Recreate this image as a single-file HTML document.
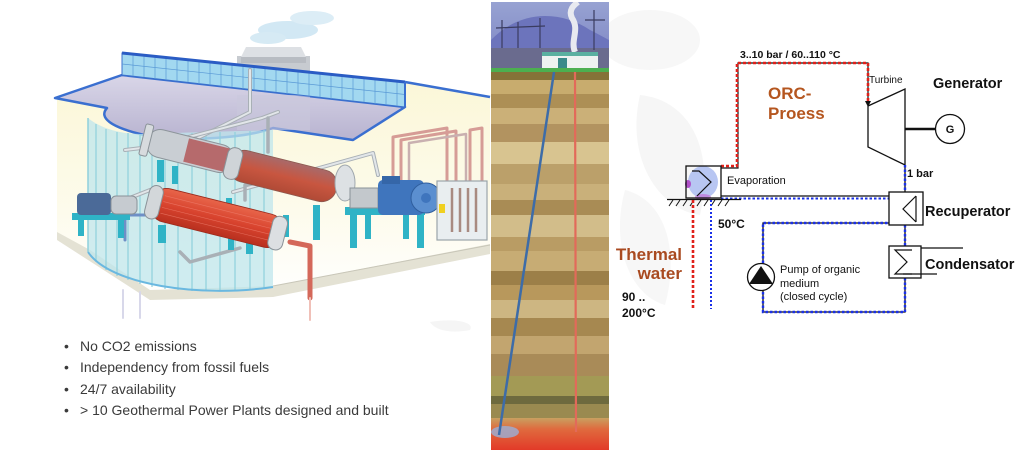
<!DOCTYPE html>
<html><head><meta charset="utf-8">
<style>
html,body{margin:0;padding:0;background:#fff;}
body{width:1024px;height:454px;overflow:hidden;position:relative;font-family:"Liberation Sans",Arial,sans-serif;}
svg{position:absolute;left:0;top:0;}
</style></head>
<body>
<svg width="1024" height="454" viewBox="0 0 1024 454" xmlns="http://www.w3.org/2000/svg" font-family="Liberation Sans, Arial, sans-serif">
<defs>
  <linearGradient id="roofG" x1="0" y1="0" x2="0" y2="1">
    <stop offset="0" stop-color="#d9d6e8"/><stop offset="1" stop-color="#b8b3d0"/>
  </linearGradient>
  <linearGradient id="creamG" x1="0" y1="0" x2="0" y2="1">
    <stop offset="0" stop-color="#fbf7d8"/><stop offset="0.6" stop-color="#fdfbec"/><stop offset="1" stop-color="#ffffff"/>
  </linearGradient>
  <linearGradient id="skyG" x1="0" y1="0" x2="0" y2="1">
    <stop offset="0" stop-color="#97a2d2"/><stop offset="1" stop-color="#7a82c2"/>
  </linearGradient>
  <linearGradient id="lavaG" x1="0" y1="0" x2="0" y2="1">
    <stop offset="0" stop-color="#c9a060"/><stop offset="0.35" stop-color="#e06a3e"/><stop offset="1" stop-color="#e23a28"/>
  </linearGradient>
  <linearGradient id="hx3G" x1="0" y1="0" x2="0" y2="1">
    <stop offset="0" stop-color="#e8654a"/><stop offset="0.5" stop-color="#d8432e"/><stop offset="1" stop-color="#b8301f"/>
  </linearGradient>
  <linearGradient id="hx2G" x1="0" y1="0" x2="0" y2="1">
    <stop offset="0" stop-color="#a86a6a"/><stop offset="0.5" stop-color="#c85640"/><stop offset="1" stop-color="#b04a36"/>
  </linearGradient>
  <clipPath id="stripClip"><rect x="491" y="2" width="118" height="448"/></clipPath>
</defs>

<!-- faint background leaves -->
<ellipse cx="650" cy="40" rx="50" ry="30" fill="#f7f7f7"/>
<path d="M640,95 C690,100 715,150 700,215 C660,210 625,160 640,95 Z" fill="#f6f6f6"/>
<path d="M625,190 C665,200 680,250 665,305 C630,295 610,245 625,190 Z" fill="#f7f7f7"/>
<path d="M430,322 C455,318 475,322 470,330 C450,334 435,330 430,322 Z" fill="#f5f5f5"/>

<!-- ============ LEFT ILLUSTRATION ============ -->
<ellipse cx="288" cy="30" rx="30" ry="9" fill="#d2e8f4"/>
<ellipse cx="312" cy="18" rx="22" ry="7" fill="#dcedf6"/>
<ellipse cx="268" cy="38" rx="18" ry="6" fill="#d6eaf4"/>

<polygon points="57,98 405,82 490,97 490,252 273,293 150,299 57,234" fill="url(#creamG)"/>
<polygon points="57,232 90,250 150,290 273,286 490,244 490,254 273,297 150,300 57,240" fill="#e4e2d4"/>
<line x1="273" y1="286" x2="490" y2="245" stroke="#c8c6b8" stroke-width="1"/>

<rect x="237" y="56" width="73" height="48" fill="#c7cbd0"/>
<polygon points="246,47 301,47 306,57 241,57" fill="#dde0e4"/>
<rect x="241" y="57" width="65" height="6" fill="#b8bcc2"/>

<path d="M55,98 L122,75 L405,107 L353,140 L273,128 C240,140 170,142 140,134 C112,127 98,118 107,108 Z" fill="url(#roofG)" stroke="#3a6fd0" stroke-width="2.5" stroke-linejoin="round"/>
<rect x="237" y="95" width="73" height="35" fill="#c9c8dc" opacity="0.6"/>
<polygon points="122,53 405,82 405,107 122,75" fill="#a2d8f0" stroke="#3a70cc" stroke-width="1"/>
<g stroke="#5a9ad6" stroke-width="0.7">
<line x1="133" y1="54" x2="133" y2="76"/><line x1="144" y1="55" x2="144" y2="77"/><line x1="155" y1="56" x2="155" y2="79"/><line x1="166" y1="58" x2="166" y2="80"/><line x1="177" y1="59" x2="177" y2="81"/><line x1="188" y1="60" x2="188" y2="82"/><line x1="199" y1="61" x2="199" y2="84"/><line x1="210" y1="62" x2="210" y2="85"/><line x1="221" y1="63" x2="221" y2="86"/><line x1="232" y1="64" x2="232" y2="87"/><line x1="243" y1="65" x2="243" y2="89"/><line x1="254" y1="67" x2="254" y2="90"/><line x1="265" y1="68" x2="265" y2="91"/><line x1="276" y1="69" x2="276" y2="92"/><line x1="287" y1="70" x2="287" y2="94"/><line x1="298" y1="71" x2="298" y2="95"/><line x1="309" y1="72" x2="309" y2="96"/><line x1="320" y1="73" x2="320" y2="97"/><line x1="331" y1="74" x2="331" y2="99"/><line x1="342" y1="76" x2="342" y2="100"/><line x1="353" y1="77" x2="353" y2="101"/><line x1="364" y1="78" x2="364" y2="102"/><line x1="375" y1="79" x2="375" y2="104"/><line x1="386" y1="80" x2="386" y2="105"/><line x1="397" y1="81" x2="397" y2="106"/>
<line x1="122" y1="64" x2="405" y2="94.5"/>
</g>
<line x1="122" y1="53" x2="405" y2="82" stroke="#2a5cc4" stroke-width="3"/>
<line x1="405" y1="82" x2="490" y2="97" stroke="#3a6fd0" stroke-width="2.5"/>
<line x1="405" y1="82" x2="405" y2="107" stroke="#3a6fd0" stroke-width="2"/>

<path d="M88,118 C100,128 120,134 140,134 L273,130 L273,287 C200,298 110,285 88,252 Z" fill="#bfe6ec" opacity="0.75"/>
<g stroke="#8fd0dc" stroke-width="1.2">
<line x1="96" y1="124" x2="96" y2="262"/><line x1="106" y1="129" x2="106" y2="270"/><line x1="117" y1="132" x2="117" y2="276"/><line x1="128" y1="133" x2="128" y2="280"/><line x1="140" y1="134" x2="140" y2="284"/><line x1="152" y1="134" x2="152" y2="287"/><line x1="165" y1="134" x2="165" y2="289"/><line x1="178" y1="134" x2="178" y2="290"/><line x1="192" y1="133" x2="192" y2="291"/><line x1="206" y1="133" x2="206" y2="291"/><line x1="220" y1="132" x2="220" y2="291"/><line x1="235" y1="132" x2="235" y2="290"/><line x1="250" y1="131" x2="250" y2="289"/><line x1="264" y1="130" x2="264" y2="288"/>
</g>
<path d="M88,252 C110,285 200,298 273,287" fill="none" stroke="#6ab8e0" stroke-width="2"/>
<line x1="88" y1="118" x2="88" y2="252" stroke="#8fd0dc" stroke-width="1.5"/>

<g fill="none" stroke-linecap="round" stroke-linejoin="round">
<path d="M250,70 L250,112 L190,142" stroke="#a9b0b6" stroke-width="4"/>
<path d="M250,70 L250,112 L190,142" stroke="#e2e6e9" stroke-width="2"/>
<path d="M278,112 L262,118 L150,147 L125,150" stroke="#a9b0b6" stroke-width="4"/>
<path d="M278,112 L262,118 L150,147 L125,150" stroke="#e2e6e9" stroke-width="2"/>
<path d="M268,118 L268,152" stroke="#a9b0b6" stroke-width="3.5"/>
<path d="M233,192 L373,153 L378,175" stroke="#a9b0b6" stroke-width="4"/>
<path d="M233,192 L373,153 L378,175" stroke="#e2e6e9" stroke-width="2"/>
<path d="M245,200 L245,185 L300,170" stroke="#a9b0b6" stroke-width="3.5"/>
<path d="M180,252 L190,262 L240,248" stroke="#a9b0b6" stroke-width="3.5"/>
<path d="M112,205 L150,190" stroke="#a9b0b6" stroke-width="4"/>
<path d="M112,205 L150,190" stroke="#e2e6e9" stroke-width="2"/>
<path d="M145,215 L125,215 L125,240" stroke="#6e8fc6" stroke-width="3"/>
<path d="M393,180 L393,137 L447,128 L447,182" stroke="#d69c96" stroke-width="3"/>
<path d="M401,180 L401,140 L456,131 L456,182" stroke="#d69c96" stroke-width="3"/>
<path d="M409,180 L409,143 L466,134 L466,182" stroke="#c9b0b0" stroke-width="2.5"/>
<path d="M470,182 L470,130 L482,128 L482,182" stroke="#d69c96" stroke-width="3"/>
<path d="M290,242 L310,246 L310,298" stroke="#d4685a" stroke-width="5"/>
<path d="M310,298 L310,320" stroke="#f0c0b8" stroke-width="2"/>
<path d="M123,290 L123,318 M140,292 L140,318" stroke="#d8d8ea" stroke-width="2"/>
</g>

<g fill="#2fb3c6">
<rect x="157" y="160" width="7" height="22"/><rect x="172" y="166" width="6" height="18"/>
<rect x="158" y="225" width="8" height="18"/><rect x="246" y="232" width="7" height="22"/>
<rect x="228" y="236" width="6" height="14"/>
<rect x="313" y="205" width="7" height="35"/><rect x="283" y="215" width="6" height="22"/>
<rect x="226" y="198" width="6" height="14"/>
<rect x="345" y="207" width="80" height="8"/>
<rect x="350" y="213" width="7" height="35"/><rect x="365" y="213" width="6" height="26"/>
<rect x="403" y="213" width="6" height="26"/><rect x="417" y="213" width="7" height="35"/>
<rect x="72" y="213" width="58" height="7"/>
<rect x="78" y="218" width="6" height="18"/><rect x="118" y="218" width="6" height="20"/>
</g>

<g transform="translate(190,151) rotate(14)">
<rect x="-44" y="-14" width="88" height="28" rx="13" fill="#c9ced3" stroke="#8d959b" stroke-width="1"/>
<rect x="-4" y="-12" width="42" height="24" fill="#b66a6c"/>
<rect x="-49" y="-16" width="8" height="32" rx="2" fill="#d7dbde" stroke="#8a9298" stroke-width="1"/>
</g>
<g transform="translate(283,176) rotate(14)">
<rect x="-55" y="-16" width="110" height="32" rx="15" fill="url(#hx2G)" stroke="#8d5a50" stroke-width="0.8"/>
<rect x="-59" y="-16" width="15" height="32" rx="7" fill="#cfd4d8" stroke="#8a9298" stroke-width="1"/>
</g>
<ellipse cx="345" cy="183" rx="10" ry="18" fill="#dde1e4" stroke="#a0a8ae" stroke-width="1"/>
<rect x="350" y="188" width="28" height="20" fill="#c3c8cc" stroke="#8a9298" stroke-width="1"/>
<g transform="translate(217,218) rotate(14)">
<rect x="-68" y="-17" width="136" height="34" rx="16" fill="url(#hx3G)" stroke="#9a2a1c" stroke-width="0.8"/>
<g stroke="#f08070" stroke-width="0.6" opacity="0.7">
<line x1="-56" y1="-9" x2="55" y2="-9"/><line x1="-56" y1="-3" x2="55" y2="-3"/><line x1="-56" y1="3" x2="55" y2="3"/><line x1="-56" y1="9" x2="55" y2="9"/>
</g>
<rect x="-72" y="-17" width="14" height="34" rx="7" fill="#d3d7da" stroke="#8a9298" stroke-width="1"/>
<rect x="55" y="-17" width="15" height="34" rx="7" fill="#dcdfe2" stroke="#8a9298" stroke-width="1"/>
</g>
<rect x="77" y="193" width="34" height="22" rx="4" fill="#4b6a98"/>
<rect x="111" y="196" width="26" height="18" rx="5" fill="#c6cbd0" stroke="#8a9298" stroke-width="1"/>
<rect x="378" y="180" width="46" height="35" rx="5" fill="#3f75bd"/>
<rect x="382" y="176" width="18" height="8" fill="#3566a8"/>
<circle cx="426" cy="198" r="15" fill="#5b8fd0" stroke="#2f5e9e" stroke-width="1"/>
<circle cx="426" cy="198" r="5" fill="#3f75bd"/>
<rect x="437" y="181" width="50" height="59" fill="#e9eef0" stroke="#9aa4aa" stroke-width="1.2"/>
<g stroke="#a88a80" stroke-width="2.5">
<line x1="452" y1="188" x2="452" y2="232"/><line x1="460" y1="188" x2="460" y2="232"/><line x1="468" y1="188" x2="468" y2="232"/><line x1="476" y1="188" x2="476" y2="232"/>
</g>
<rect x="439" y="204" width="6" height="9" fill="#f0d020"/>

<!-- ============ MIDDLE STRIP ============ -->
<g clip-path="url(#stripClip)">
<rect x="491" y="2" width="118" height="70" fill="url(#skyG)"/>
<path d="M491,40 C520,10 560,10 590,30 C600,35 605,38 609,40 L609,60 L491,60 Z" fill="#6c74bc"/>
<rect x="491" y="48" width="118" height="20" fill="#6a6b8e"/>
<g stroke="#3a3c60" stroke-width="1.2">
<line x1="502" y1="20" x2="502" y2="48"/><line x1="518" y1="22" x2="518" y2="48"/><line x1="540" y1="18" x2="540" y2="48"/><line x1="594" y1="10" x2="594" y2="50"/>
<line x1="585" y1="20" x2="605" y2="20"/><line x1="496" y1="28" x2="545" y2="26"/>
</g>
<path d="M575,52 C570,40 580,30 572,18 C568,10 574,5 578,2" stroke="#e8eaf0" stroke-width="6" fill="none"/>
<rect x="542" y="55" width="56" height="14" fill="#eef2f0"/>
<rect x="542" y="52" width="56" height="4" fill="#5ab0a0"/>
<rect x="558" y="58" width="9" height="11" fill="#3a8a8a"/>
<rect x="491" y="68" width="118" height="4" fill="#4caf50"/>
<rect x="491" y="72" width="118" height="8" fill="#857238"/>
<rect x="491" y="80" width="118" height="14" fill="#c8ac6e"/>
<rect x="491" y="94" width="118" height="14" fill="#ad8f55"/>
<rect x="491" y="108" width="118" height="16" fill="#cbb078"/>
<rect x="491" y="124" width="118" height="18" fill="#b29360"/>
<rect x="491" y="142" width="118" height="22" fill="#d8c490"/>
<rect x="491" y="164" width="118" height="20" fill="#bba06a"/>
<rect x="491" y="184" width="118" height="16" fill="#c9b07a"/>
<rect x="491" y="200" width="118" height="15" fill="#a98c55"/>
<rect x="491" y="215" width="118" height="22" fill="#d2bd8a"/>
<rect x="491" y="237" width="118" height="14" fill="#b99c64"/>
<rect x="491" y="251" width="118" height="20" fill="#c7ac74"/>
<rect x="491" y="271" width="118" height="14" fill="#9c7f48"/>
<rect x="491" y="285" width="118" height="15" fill="#b8985c"/>
<rect x="491" y="300" width="118" height="18" fill="#cdb682"/>
<rect x="491" y="318" width="118" height="18" fill="#a68850"/>
<rect x="491" y="336" width="118" height="18" fill="#c2a56f"/>
<rect x="491" y="354" width="118" height="22" fill="#a98b58"/>
<rect x="491" y="376" width="118" height="20" fill="#a39a55"/>
<rect x="491" y="396" width="118" height="8" fill="#6e6a3e"/>
<rect x="491" y="404" width="118" height="16" fill="#9a8a50"/>
<rect x="491" y="418" width="118" height="32" fill="url(#lavaG)"/>
<ellipse cx="505" cy="432" rx="14" ry="6" fill="#9ab0d8" opacity="0.8"/>
<line x1="554" y1="72" x2="499" y2="435" stroke="#3d6ca8" stroke-width="2.5"/>
<line x1="575" y1="72" x2="576" y2="432" stroke="#e26a5a" stroke-width="2.2"/>
</g>

<!-- ============ BULLETS ============ -->
<g font-size="14" fill="#3a3a3a">
<text x="64" y="351">•</text><text x="80" y="351">No CO2 emissions</text>
<text x="64" y="372">•</text><text x="80" y="372">Independency from fossil fuels</text>
<text x="64" y="394">•</text><text x="80" y="394">24/7 availability</text>
<text x="64" y="415">•</text><text x="80" y="415">&gt; 10 Geothermal Power Plants designed and built</text>
</g>

<!-- ============ ORC DIAGRAM ============ -->
<g fill="none">
<path d="M721,168 L738,168 L738,63 L868,63 L868,103" stroke="#111" stroke-width="1.2"/>
<path d="M721,166 L737,166 L737,63 L868,63 L868,103" stroke="#e0201a" stroke-width="2.6" stroke-dasharray="3,2"/>
<polygon points="865,101 871,101 868,107" fill="#111"/>
<polygon points="868,106 905,89 905,165 868,147" stroke="#111" stroke-width="1.3"/>
<line x1="905" y1="129" x2="936" y2="129" stroke="#111" stroke-width="2.6"/>
<circle cx="950" cy="129" r="14.5" stroke="#111" stroke-width="1.3" fill="#fff"/>
<path d="M905,165 L905,192 M905,225 L905,246 M905,278 L905,312 L763,312 L763,223 L889,223" stroke="#111" stroke-width="1.3"/>
<path d="M905,165 L905,192 M905,225 L905,246 M905,278 L905,312 L763,312 L763,223 L889,223" stroke="#1a30e8" stroke-width="2.4" stroke-dasharray="2.5,2"/>
<line x1="721" y1="196" x2="889" y2="196" stroke="#111" stroke-width="1.3"/>
<line x1="721" y1="198.5" x2="889" y2="198.5" stroke="#1a30e8" stroke-width="2" stroke-dasharray="2.5,2"/>
<rect x="889" y="192" width="34" height="33" stroke="#111" stroke-width="1.3" fill="#fff"/>
<polyline points="916,196 903,209 916,222" stroke="#111" stroke-width="1.2"/>
<line x1="916" y1="196" x2="916" y2="222" stroke="#111" stroke-width="1.2"/>
<rect x="889" y="246" width="32" height="32" stroke="#111" stroke-width="1.3" fill="#fff"/>
<polyline points="912,250 895,250 907,262 895,274 912,274" stroke="#111" stroke-width="1.2"/>
<line x1="921" y1="248" x2="963" y2="248" stroke="#111" stroke-width="1.2"/>
<line x1="903" y1="274" x2="937" y2="274" stroke="#111" stroke-width="1.2"/>
<circle cx="761" cy="277" r="13.5" stroke="#111" stroke-width="1.3" fill="#fff"/>
<polygon points="749,284 761,266 773,284" fill="#111"/>
<ellipse cx="703" cy="182" rx="15" ry="16" fill="#b8c6f2" stroke="none"/>
<ellipse cx="688" cy="184" rx="3" ry="4" fill="#b050c8"/>
<ellipse cx="703" cy="197" rx="8" ry="3" fill="#c070d8" opacity="0.7"/>
<rect x="686" y="166" width="35" height="32" stroke="#111" stroke-width="1.3"/>
<polyline points="692,171 699,171 711,182 697,196" stroke="#111" stroke-width="1.2"/>
<line x1="667" y1="199.5" x2="741" y2="199.5" stroke="#111" stroke-width="1.3"/>
<g stroke="#111" stroke-width="1">
<line x1="669" y1="206" x2="673" y2="200"/><line x1="676" y1="206" x2="680" y2="200"/><line x1="683" y1="206" x2="687" y2="200"/><line x1="690" y1="206" x2="694" y2="200"/><line x1="697" y1="206" x2="701" y2="200"/><line x1="704" y1="206" x2="708" y2="200"/><line x1="711" y1="206" x2="715" y2="200"/><line x1="718" y1="206" x2="722" y2="200"/><line x1="725" y1="206" x2="729" y2="200"/>
</g>
<line x1="693" y1="200" x2="693" y2="309" stroke="#e0201a" stroke-width="2.6" stroke-dasharray="3,2"/>
<line x1="711" y1="200" x2="711" y2="309" stroke="#1a30e8" stroke-width="2" stroke-dasharray="2,2"/>
</g>

<g fill="#111">
<text x="740" y="58" font-size="10.5" font-weight="bold">3..10 bar / 60..110 °C</text>
<text x="869" y="83" font-size="10">Turbine</text>
<text x="933" y="88" font-size="14.5" font-weight="bold">Generator</text>
<text x="950" y="133" font-size="11" font-weight="bold" text-anchor="middle">G</text>
<text x="907" y="177" font-size="11" font-weight="bold">1 bar</text>
<text x="727" y="184" font-size="11">Evaporation</text>
<text x="925" y="216" font-size="14.5" font-weight="bold">Recuperator</text>
<text x="718" y="228" font-size="12" font-weight="bold">50°C</text>
<text x="925" y="269" font-size="14.5" font-weight="bold">Condensator</text>
<text x="780" y="273" font-size="11">Pump of organic</text>
<text x="780" y="287" font-size="11">medium</text>
<text x="780" y="300" font-size="11">(closed cycle)</text>
<text x="622" y="301" font-size="12" font-weight="bold">90 ..</text>
<text x="622" y="317" font-size="12" font-weight="bold">200°C</text>
</g>
<g fill="#b5561f" font-weight="bold">
<text x="768" y="99" font-size="17">ORC-</text>
<text x="768" y="119" font-size="17">Proess</text>
</g>
<g fill="#a94a20" font-weight="bold" font-size="17" text-anchor="end">
<text x="682" y="260">Thermal</text>
<text x="682" y="279">water</text>
</g>
</svg>
</body></html>
